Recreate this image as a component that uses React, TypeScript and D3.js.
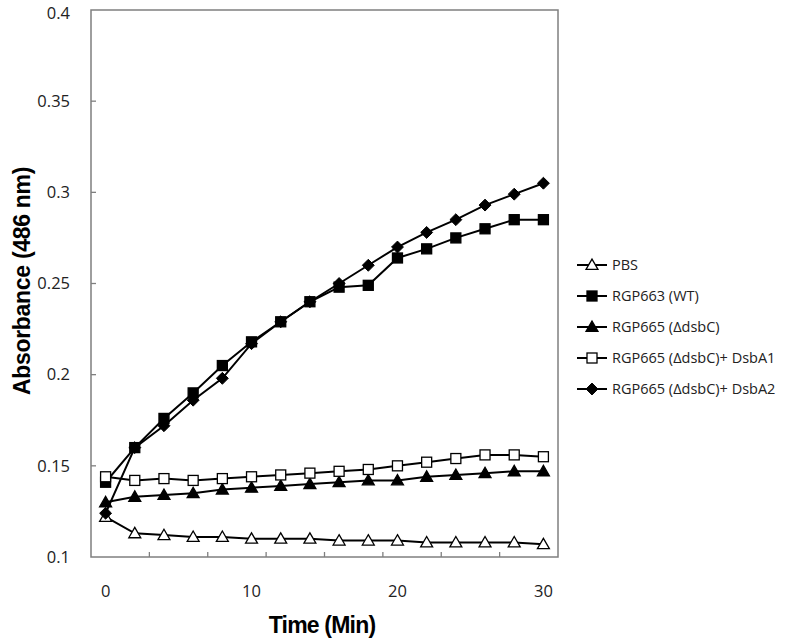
import React from "react";
import * as d3 from "d3";

const times = [0, 2, 4, 6, 8, 10, 12, 14, 16, 18, 20, 22, 24, 26, 28, 30];
const pbs = [0.122, 0.113, 0.112, 0.111, 0.111, 0.110, 0.110, 0.110, 0.109, 0.109, 0.109, 0.108, 0.108, 0.108, 0.108, 0.107];
const wt = [0.141, 0.160, 0.176, 0.190, 0.205, 0.218, 0.229, 0.240, 0.248, 0.249, 0.264, 0.269, 0.275, 0.280, 0.285, 0.285];
const dsbC = [0.130, 0.133, 0.134, 0.135, 0.137, 0.138, 0.139, 0.140, 0.141, 0.142, 0.142, 0.144, 0.145, 0.146, 0.147, 0.147];
const dsbA1 = [0.144, 0.142, 0.143, 0.142, 0.143, 0.144, 0.145, 0.146, 0.147, 0.148, 0.150, 0.152, 0.154, 0.156, 0.156, 0.155];
const dsbA2 = [0.124, 0.160, 0.172, 0.186, 0.198, 0.217, 0.229, 0.240, 0.250, 0.260, 0.270, 0.278, 0.285, 0.293, 0.299, 0.305];

const seriesNames = ["PBS", "RGP663 (WT)", "RGP665 (\u0394dsbC)", "RGP665 (\u0394dsbC)+ DsbA1", "RGP665 (\u0394dsbC)+ DsbA2"];
const seriesMarkers = ["triOpen", "squareFilled", "triFilled", "squareOpen", "diamond"];
const seriesValues = [pbs, wt, dsbC, dsbA1, dsbA2];

const yTicks = [0.1, 0.15, 0.2, 0.25, 0.3, 0.35, 0.4];
const xLabels = [0, 10, 20, 30];

const font = "'Open Sans', 'DejaVu Sans', sans-serif";

function Marker({ type, x, y }: { type: string; x: number; y: number }) {
  if (type === "triOpen" || type === "triFilled") {
    const p = d3.symbol().type(d3.symbolTriangle).size(62)();
    return (
      <path d={p!} transform={`translate(${x},${y + 1})`}
        fill={type === "triFilled" ? "#000" : "#fff"} stroke="#000" strokeWidth={1.3} />
    );
  }
  if (type === "squareFilled" || type === "squareOpen") {
    const s = 10;
    return (
      <rect x={x - s / 2} y={y - s / 2} width={s} height={s}
        fill={type === "squareFilled" ? "#000" : "#fff"} stroke="#000" strokeWidth={1.3} />
    );
  }
  const p = d3.symbol().type(d3.symbolDiamond2).size(90)();
  return <path d={p!} transform={`translate(${x},${y})`} fill="#000" stroke="#000" strokeWidth={1} />;
}

export default function App() {
  const W = 797, H = 643;
  const left = 91, right = 558, top = 10, bottom = 557;
  const xb = d3.scaleBand<number>().domain(times).range([left, right]).padding(0);
  const xc = (t: number) => (xb(t) as number) + xb.bandwidth() / 2;
  const y = d3.scaleLinear().domain([0.1, 0.4]).range([bottom, top]);
  const line = d3.line<number>().x((_, i) => xc(times[i])).y((v) => y(v));
  const tickBounds = d3.range(2, times.length, 2).map((k) => left + k * xb.bandwidth());

  const legendX = 577, legendY0 = 265, legendDy = 31;

  return (
    <svg width={W} height={H} style={{ position: "absolute", left: 0, top: 0, background: "#fff" }}>
      <rect x={0} y={0} width={W} height={H} fill="#fff" />
      {/* frame */}
      <rect x={left} y={top} width={right - left} height={bottom - top} fill="none" stroke="#7f7f7f" strokeWidth={1.5} />
      {yTicks.slice(1, -1).map((t) => (
        <line key={t} x1={left} x2={left + 5} y1={y(t)} y2={y(t)} stroke="#7f7f7f" strokeWidth={1.3} />
      ))}
      {tickBounds.map((bx, i) => (
        <line key={i} x1={bx} x2={bx} y1={bottom} y2={bottom - 5} stroke="#7f7f7f" strokeWidth={1.3} />
      ))}
      {yTicks.map((t) => (
        <text key={t} x={70} y={Math.max(y(t), 13)} dy="0.35em" textAnchor="end" fontFamily={font} fontSize={16.5} fill="#222">
          {String(t)}
        </text>
      ))}
      {xLabels.map((t) => (
        <text key={t} x={xc(t)} y={591} dy="0.35em" textAnchor="middle" fontFamily={font} fontSize={16.5} fill="#222">
          {t}
        </text>
      ))}
      <text x={322} y={625} dy="0.35em" textAnchor="middle" fontFamily="'Liberation Sans', Arial, sans-serif"
        fontWeight="bold" fontSize={23} letterSpacing={-0.8}>
        Time (Min)
      </text>
      <text transform={`translate(22,${281}) rotate(-90)`} dy="0.35em" textAnchor="middle"
        fontFamily="'Liberation Sans', Arial, sans-serif" fontWeight="bold" fontSize={23} letterSpacing={-0.3}>
        Absorbance (486 nm)
      </text>
      {/* series */}
      {seriesValues.map((vals, si) => (
        <g key={si}>
          <path d={line(vals)!} fill="none" stroke="#000" strokeWidth={2} />
          {vals.map((v, i) => (
            <Marker key={i} type={seriesMarkers[si]} x={xc(times[i])} y={y(v)} />
          ))}
        </g>
      ))}
      {/* legend */}
      {seriesNames.map((name, i) => {
        const ly = legendY0 + i * legendDy;
        return (
          <g key={name}>
            <line x1={legendX} x2={legendX + 30} y1={ly} y2={ly} stroke="#000" strokeWidth={2} />
            <Marker type={seriesMarkers[i]} x={legendX + 15} y={ly} />
            <text x={legendX + 35} y={ly} dy="0.35em" fontFamily={font} fontSize={14.5} fill="#222">
              {name}
            </text>
          </g>
        );
      })}
    </svg>
  );
}
